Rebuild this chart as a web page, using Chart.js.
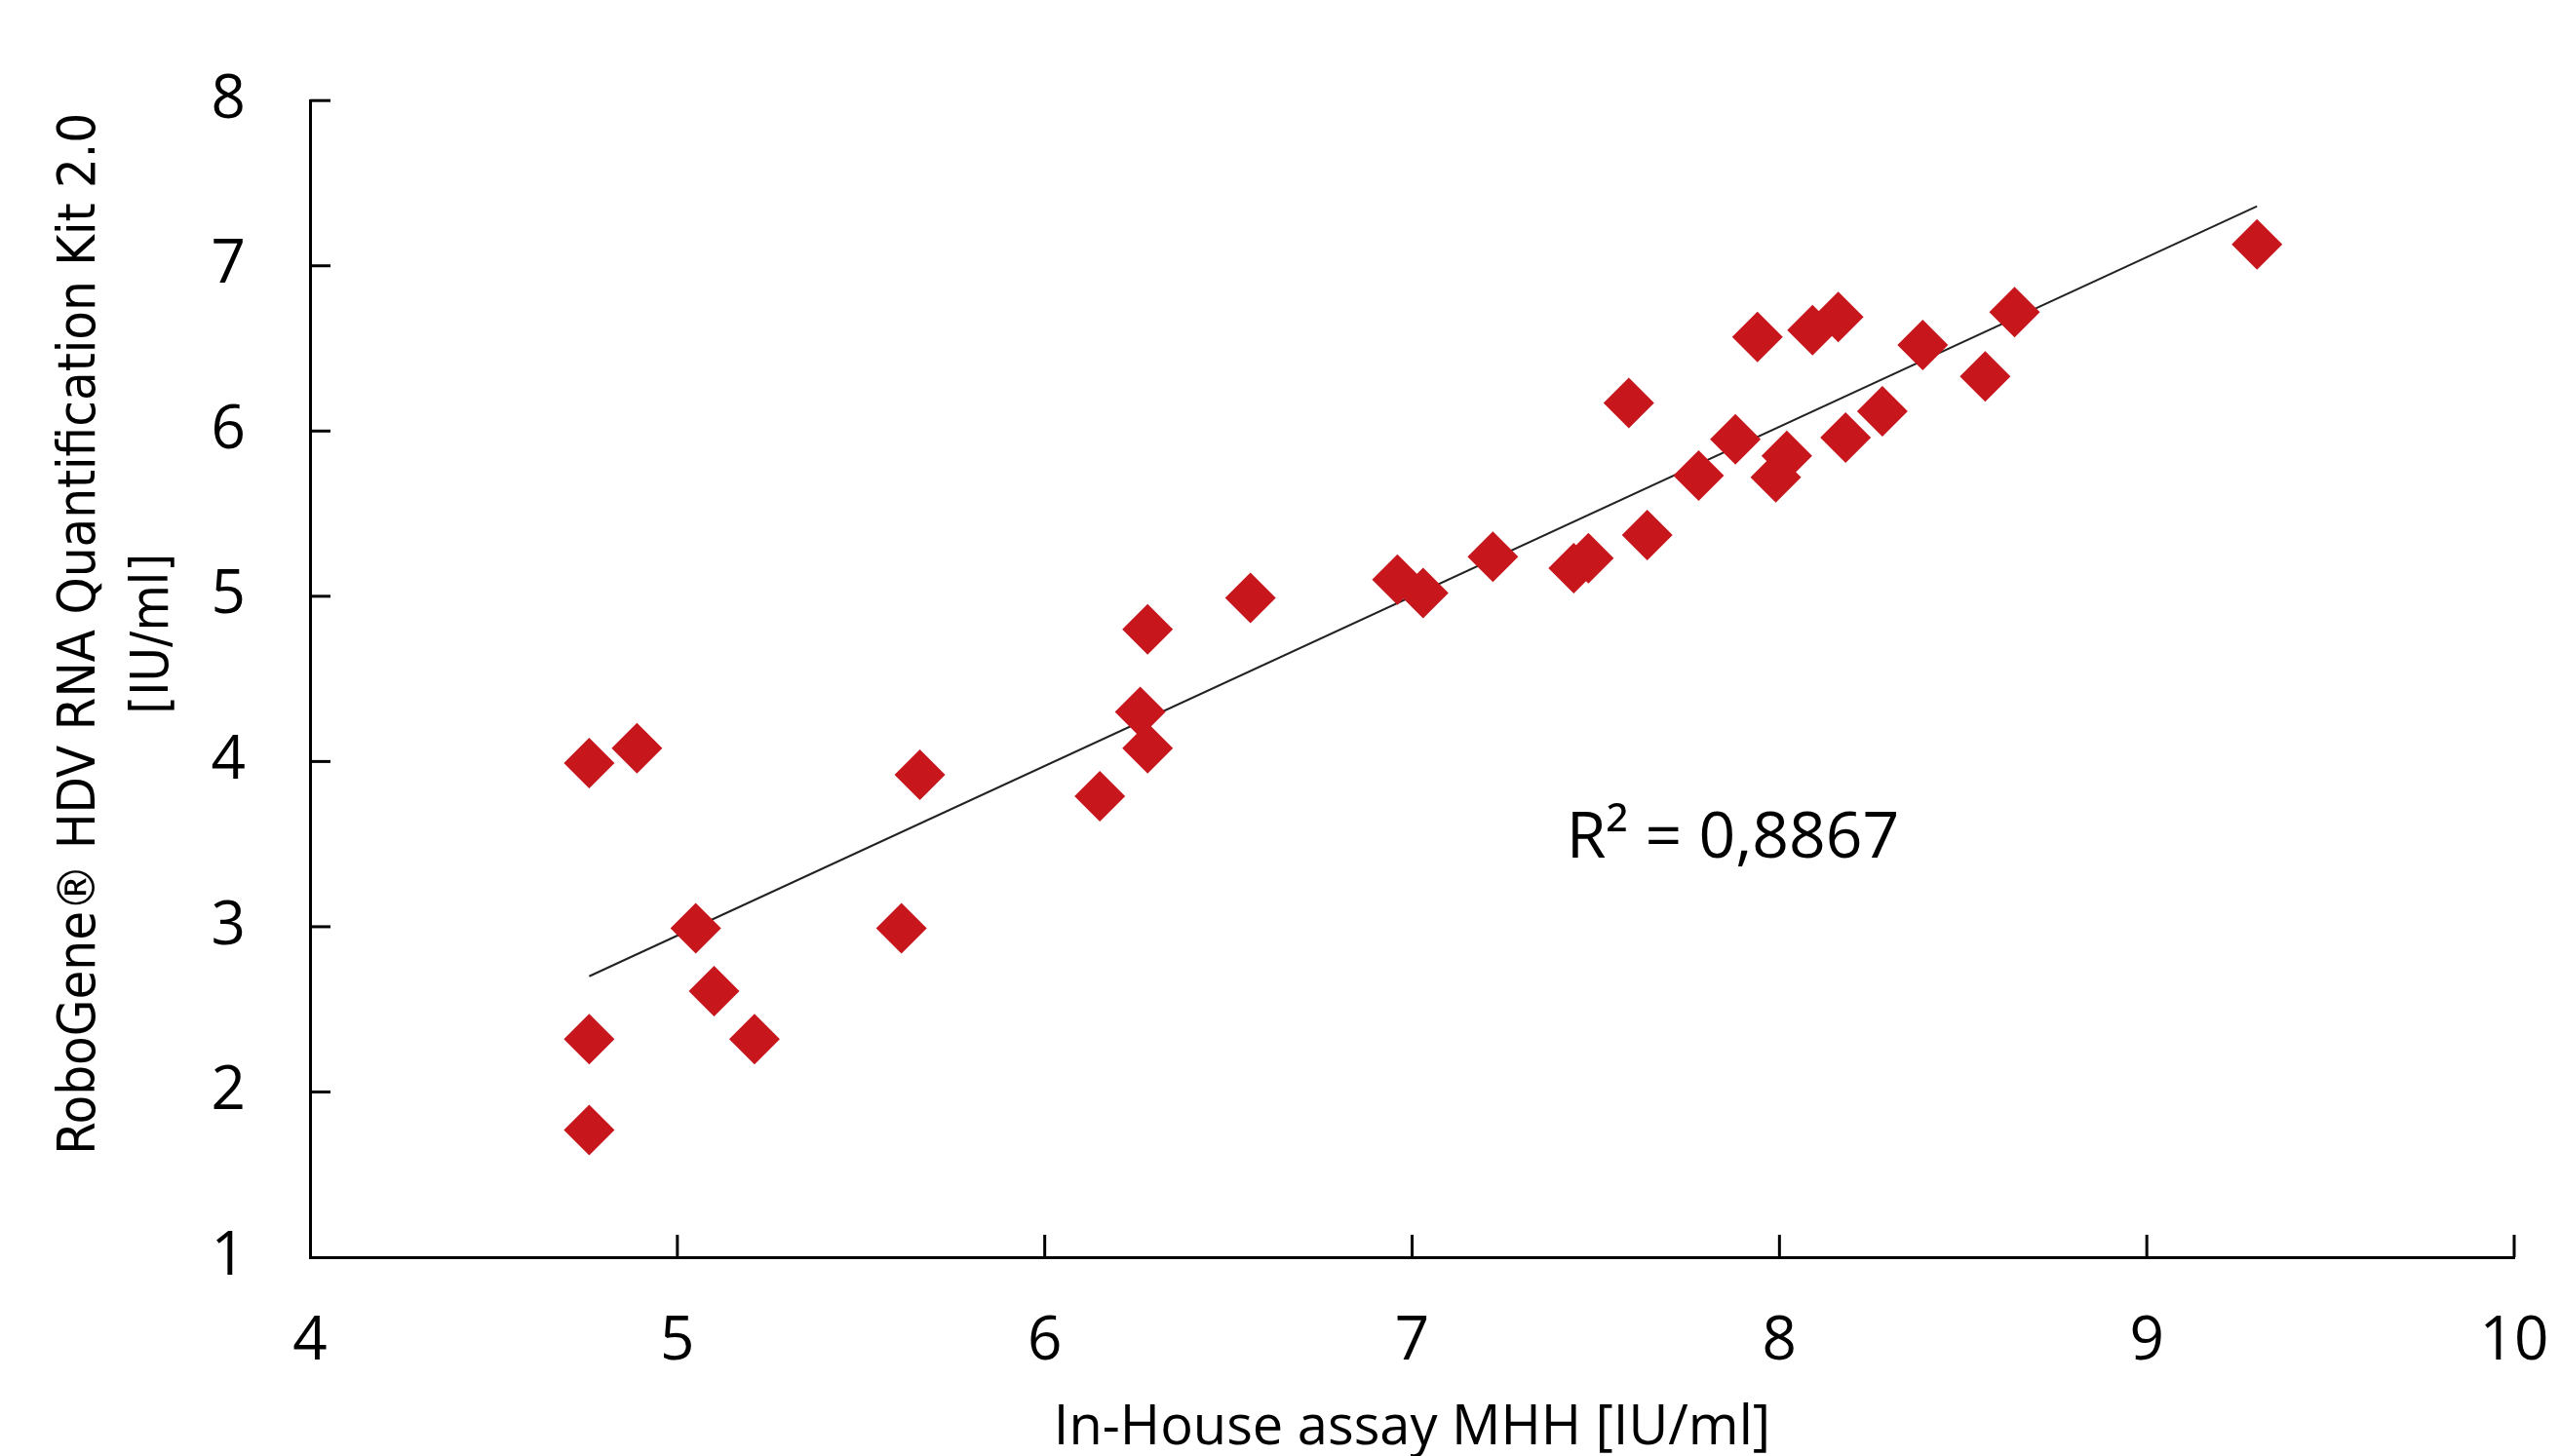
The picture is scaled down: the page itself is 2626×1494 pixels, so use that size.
<!DOCTYPE html>
<html lang="de">
<head>
    <meta charset="UTF-8">
    <title>RoboGene HDV vs In-House MHH</title>
    <style>
        body { margin: 0; background: #fff; }
        .wrap { width: 2626px; height: 1494px; }
    </style>
</head>
<body>
    <div class="wrap">
        <canvas id="scatter"></canvas>
    </div>
    <script src="https://cdn.jsdelivr.net/npm/chart.js"></script>
    <script>
        // In-House assay MHH values (x) and RoboGene values (y)
        var inHouse = [4.76, 4.89, 4.76, 4.76, 5.05, 5.10, 5.21, 5.61, 5.66, 6.15, 6.26, 6.28, 6.28,
                       6.56, 6.96, 7.03, 7.22, 7.44, 7.48, 7.59, 7.64, 7.78, 7.88, 7.94, 7.99, 8.02,
                       8.09, 8.16, 8.18, 8.28, 8.39, 8.56, 8.64, 9.30];
        var roboGene = [3.99, 4.08, 2.32, 1.77, 2.99, 2.61, 2.32, 2.99, 3.92, 3.79, 4.30, 4.08, 4.80,
                        4.99, 5.10, 5.02, 5.24, 5.17, 5.23, 6.17, 5.37, 5.73, 5.95, 6.57, 5.72, 5.85,
                        6.61, 6.69, 5.96, 6.12, 6.52, 6.33, 6.72, 7.13];

        // linear trend line end points
        var trendX = [4.76, 9.30];
        var trendY = [2.70, 7.36];

        var xTicks = [4, 5, 6, 7, 8, 9, 10];
        var yTicks = [1, 2, 3, 4, 5, 6, 7, 8];

        var rSquared = 'R\u00B2 = 0,8867';

        var points = inHouse.map(function (x, i) { return { x: x, y: roboGene[i] }; });
        var trend = trendX.map(function (x, i) { return { x: x, y: trendY[i] }; });

        var tickFont = { family: 'Open Sans', size: 62 };
        // the y title sits a bit above the middle of the axis in the original
        var lift = '\u00A0\u00A0\u00A0\u00A0\u00A0\u00A0';

        // small inward tick marks + the R² note
        var extras = {
            id: 'extras',
            afterDraw: function (chart) {
                var c = chart.ctx;
                var xs = chart.scales.x, ys = chart.scales.y;
                var area = chart.chartArea;
                c.save();
                c.strokeStyle = '#000';
                c.lineWidth = 3;
                xTicks.forEach(function (v) {
                    if (v === xTicks[0]) return;
                    var px = xs.getPixelForValue(v);
                    c.beginPath();
                    c.moveTo(px, area.bottom);
                    c.lineTo(px, area.bottom - 23);
                    c.stroke();
                });
                yTicks.forEach(function (v) {
                    if (v === yTicks[0]) return;
                    var py = ys.getPixelForValue(v);
                    c.beginPath();
                    c.moveTo(area.left, py);
                    c.lineTo(area.left + 21, py);
                    c.stroke();
                });
                c.fillStyle = '#000';
                c.font = '66px "Open Sans"';
                c.textBaseline = 'alphabetic';
                c.fillText(rSquared, xs.getPixelForValue(7.42), ys.getPixelForValue(3.42));
                c.restore();
            }
        };

        new Chart(document.getElementById('scatter'), {
            type: 'scatter',
            data: {
                datasets: [
                    {
                        label: 'Samples',
                        data: points,
                        pointStyle: 'rectRot',
                        pointRadius: 26,
                        pointHoverRadius: 26,
                        backgroundColor: '#c8161d',
                        borderWidth: 0,
                        order: 1
                    },
                    {
                        label: 'Trend',
                        type: 'line',
                        data: trend,
                        borderColor: '#222',
                        borderWidth: 2,
                        pointRadius: 0,
                        fill: false,
                        order: 2
                    }
                ]
            },
            options: {
                responsive: true,
                maintainAspectRatio: false,
                animation: false,
                layout: { padding: { top: 99, right: 47, left: 0, bottom: 0 } },
                plugins: {
                    legend: { display: false },
                    tooltip: { enabled: false }
                },
                scales: {
                    x: {
                        type: 'linear',
                        min: 4,
                        max: 10,
                        grid: { display: false, drawTicks: false },
                        border: { display: true, color: '#000', width: 3 },
                        ticks: {
                            stepSize: 1,
                            color: '#000',
                            font: tickFont,
                            padding: 50,
                            maxRotation: 0
                        },
                        title: {
                            display: true,
                            text: 'In-House assay MHH [IU/ml]',
                            color: '#000',
                            font: { family: 'Open Sans', size: 56, lineHeight: 1 },
                            padding: 0
                        },
                        afterFit: function (scale) {
                            scale.height = 204;
                            // the last label may stick out past the plot, like in the original
                            scale.paddingLeft = 0;
                            scale.paddingRight = 0;
                        }
                    },
                    y: {
                        type: 'linear',
                        min: 1,
                        max: 8,
                        grid: { display: false, drawTicks: false },
                        border: { display: true, color: '#000', width: 3 },
                        ticks: {
                            stepSize: 1,
                            color: '#000',
                            font: tickFont,
                            padding: 66
                        },
                        title: {
                            display: true,
                            text: [lift + 'RoboGene\u00AE HDV RNA Quantification Kit 2.0', lift + '[IU/ml]'],
                            color: '#000',
                            font: { family: '"Liberation Sans Narrow", "DejaVu Sans Condensed", "Open Sans", sans-serif', size: 54, lineHeight: 1.38 },
                            padding: { top: 46, bottom: 0 }
                        },
                        afterFit: function (scale) { scale.width = 318; }
                    }
                }
            },
            plugins: [extras]
        });
    </script>
</body>
</html>
